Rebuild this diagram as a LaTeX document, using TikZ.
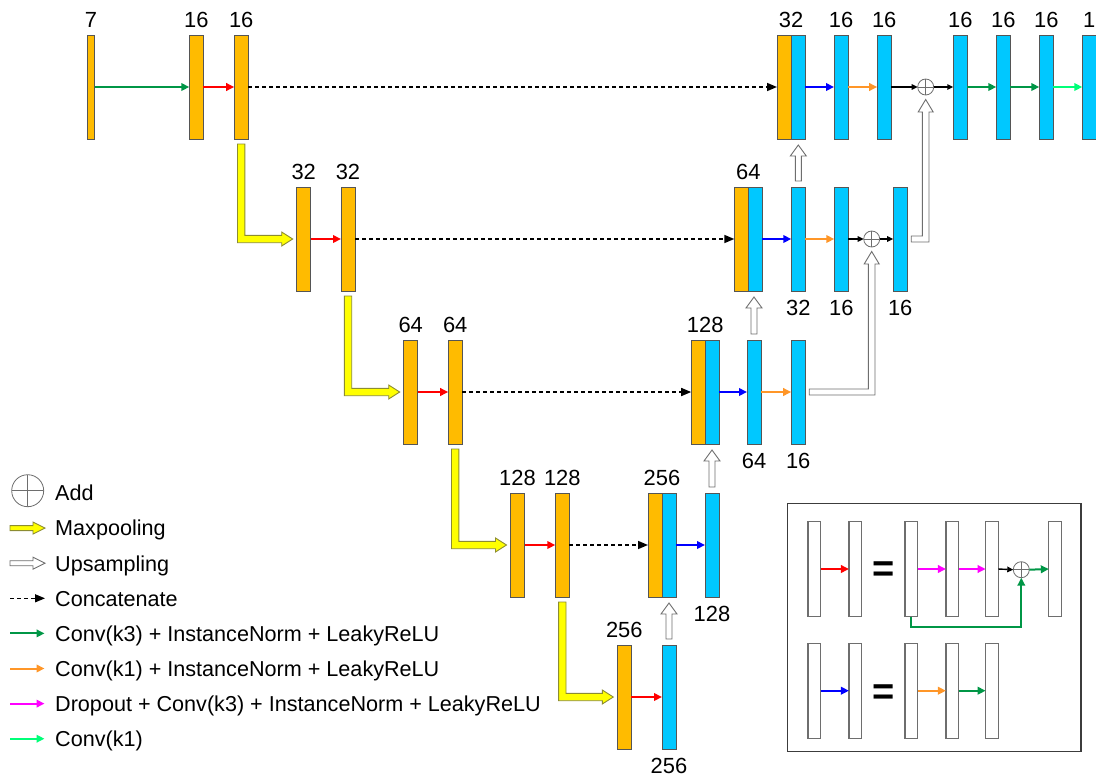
\documentclass[tikz,border=0pt]{standalone}
\usepackage{fontspec}
\setmainfont{Liberation Sans}
\usetikzlibrary{arrows.meta,calc}

\definecolor{barorange}{RGB}{255,187,0}
\definecolor{barcyan}{RGB}{0,200,255}
\definecolor{edgegray}{RGB}{85,85,85}
\definecolor{cred}{RGB}{255,0,0}
\definecolor{cblue}{RGB}{0,0,255}
\definecolor{corange}{RGB}{255,150,40}
\definecolor{cgreen}{RGB}{0,150,70}
\definecolor{clime}{RGB}{0,255,120}
\definecolor{cmagenta}{RGB}{255,0,255}
\definecolor{poolyellow}{RGB}{255,255,0}
\definecolor{pooledge}{RGB}{140,140,50}
\definecolor{upedge}{RGB}{110,110,110}
\definecolor{frameedge}{RGB}{60,60,60}

\tikzset{
  blk/.style={draw=edgegray, line width=0.8pt, inner sep=0pt, outer sep=0pt,
              minimum width=14pt, minimum height=104pt},
  enc/.style={blk, fill=barorange},
  dec/.style={blk, fill=barcyan},
  ibar/.style={draw=upedge, fill=white, line width=1.1pt, inner sep=0pt, outer sep=0pt,
               minimum width=12.7pt, minimum height=95pt},
  lbl/.style={font=\fontsize{21.9}{26}\selectfont, inner sep=0pt},
  keytxt/.style={font=\fontsize{21.6}{26}\selectfont, inner sep=0pt, anchor=base west},
  eqsign/.style={font=\fontsize{38}{38}\selectfont\bfseries, inner sep=0pt, anchor=north},
  flow/.style={line width=2pt, -{Triangle[length=8pt,width=7.5pt]}},
  redarr/.style={flow, draw=cred},
  bluearr/.style={flow, draw=cblue},
  orarr/.style={flow, draw=corange},
  grnarr/.style={flow, draw=cgreen},
  limearr/.style={flow, draw=clime},
  magarr/.style={flow, draw=cmagenta},
  blkarr/.style={line width=1.4pt, draw=black, -{Triangle[length=6pt,width=5.5pt]}},
  catarr/.style={line width=1.6pt, draw=black, dash pattern=on 3.5pt off 3.5pt,
                 -{Triangle[length=10pt,width=8pt]}},
  upst/.style={draw=upedge, fill=white, line width=0.9pt, line join=miter},
  poolst/.style={draw=pooledge, fill=poolyellow, line width=0.9pt, line join=miter},
  addc/.style={circle, draw=upedge, line width=0.8pt, minimum size=16pt, inner sep=0pt,
               outer sep=0pt, fill=white,
               path picture={\draw[upedge, line width=0.6pt]
                 (path picture bounding box.north) -- (path picture bounding box.south)
                 (path picture bounding box.west) -- (path picture bounding box.east);}},
}

% upsampling arrow from the top of block #1 up to the bottom of block #2
\newcommand\upsamp[2]{%
  \draw[upst] let \p1=(#1.north), \p2=(#2.south) in
    (\x1-3pt,\y1+6pt) -- (\x1-3pt,\y2-17pt) -- (\x1-8pt,\y2-17pt) -- (\x1,\y2-6pt)
    -- (\x1+8pt,\y2-17pt) -- (\x1+3pt,\y2-17pt) -- (\x1+3pt,\y1+6pt) -- cycle;}

% upsampling arrow from the right of block #1 round to the bottom of adder #2
\newcommand\skiparr[2]{%
  \draw[upst] let \p1=(#1.east), \p2=(#2.south) in
    (\x1+4pt,\y1+3pt) -- (\x2-3.3pt,\y1+3pt) -- (\x2-3.3pt,\y2-17pt) -- (\x2-7.5pt,\y2-17pt)
    -- (\x2,\y2-4.5pt) -- (\x2+7.5pt,\y2-17pt) -- (\x2+3.3pt,\y2-17pt) -- (\x2+3.3pt,\y1-3pt)
    -- (\x1+4pt,\y1-3pt) -- cycle;}

% max-pooling arrow from under block #1 down and right to block #2
\newcommand\maxpool[2]{%
  \draw[poolst] let \p1=(#1.south), \p2=(#2.west) in
    (\x1-3.7pt,\y1-5pt) -- (\x1-3.7pt,\y2-3.7pt) -- (\x2-15pt,\y2-3.7pt) -- (\x2-15pt,\y2-7pt)
    -- (\x2-4pt,\y2) -- (\x2-15pt,\y2+7pt) -- (\x2-15pt,\y2+3.7pt) -- (\x1+3.7pt,\y2+3.7pt)
    -- (\x1+3.7pt,\y1-5pt) -- cycle;}

% small horizontal block arrow for the key
\newcommand\keyarr[3]{%
  \draw[#1] let \p1=(#2), \p2=(#3) in
    (\x1,\y1+2.5pt) -- (\x2-12pt,\y1+2.5pt) -- (\x2-12pt,\y1+6pt) -- (\x2,\y1)
    -- (\x2-12pt,\y1-6pt) -- (\x2-12pt,\y1-2.5pt) -- (\x1,\y1-2.5pt) -- cycle;}

\begin{document}
\begin{tikzpicture}[x=1pt,y=-1pt]
\useasboundingbox (0,0) rectangle (1096,777);

% ---------------- level 1 ----------------
\node[enc, minimum width=7.4pt] (r1a) at (91,87) {};
\node[enc] (r1b) at (196.3,87) {};
\node[enc] (r1c) at (241.2,87) {};
\node[enc] (r1d) at (784,87) {};
\node[dec] (r1e) at (798,87) {};
\node[dec] (r1f) at (841,87) {};
\node[dec] (r1g) at (884.2,87) {};
\node[addc] (a1) at (925.7,87) {};
\node[dec] (r1h) at (960.3,87) {};
\node[dec] (r1i) at (1003.3,87) {};
\node[dec] (r1j) at (1046.3,87) {};
\node[dec] (r1k) at (1089.3,87) {};

% ---------------- level 2 ----------------
\node[enc] (r2a) at (303.7,239) {};
\node[enc] (r2b) at (348,239) {};
\node[enc] (r2c) at (741.3,239) {};
\node[dec] (r2d) at (755.3,239) {};
\node[dec] (r2e) at (798.3,239) {};
\node[dec] (r2f) at (841.3,239) {};
\node[addc] (a2) at (871.7,239) {};
\node[dec] (r2g) at (900.2,239) {};

% ---------------- level 3 ----------------
\node[enc] (r3a) at (410.7,392) {};
\node[enc] (r3b) at (455.2,392) {};
\node[enc] (r3c) at (698.2,392) {};
\node[dec] (r3d) at (712.2,392) {};
\node[dec] (r3e) at (754,392) {};
\node[dec] (r3f) at (798.2,392) {};

% ---------------- level 4 ----------------
\node[enc] (r4a) at (517.5,545) {};
\node[enc] (r4b) at (562.3,545) {};
\node[enc] (r4c) at (655,545) {};
\node[dec] (r4d) at (669,545) {};
\node[dec] (r4e) at (712,545) {};

% ---------------- level 5 ----------------
\node[enc] (r5a) at (624.3,697) {};
\node[dec] (r5b) at (669,697) {};

% channel counts above the blocks
\foreach \n/\t in {r1a/7, r1b/16, r1c/16, r1f/16, r1g/16, r1h/16, r1i/16, r1j/16, r1k/1,
                   r2a/32, r2b/32, r3a/64, r3b/64, r4a/128, r4b/128, r5a/256}
  \node[lbl, anchor=base] at ([yshift=7.5pt]\n.north) {\t};
\node[lbl, anchor=base] at ([yshift=7.5pt]r1d.north east) {32};
\node[lbl, anchor=base] at ([yshift=7.5pt]r2c.north east) {64};
\node[lbl, anchor=base] at ([yshift=7.5pt]r3c.north east) {128};
\node[lbl, anchor=base] at ([yshift=7.5pt]r4c.north east) {256};
% channel counts below the blocks
\foreach \n/\t in {r2e/32, r2f/16, r2g/16, r3e/64, r3f/16, r4e/128, r5b/256}
  \node[lbl, anchor=base] at ([yshift=-24pt]\n.south) {\t};

% ---------------- connections ----------------
\draw[grnarr] (r1a.east) -- (r1b.west);
\draw[redarr] (r1b.east) -- (r1c.west);
\draw[catarr] (r1c.east) -- (r1d.west);
\draw[bluearr] (r1e.east) -- (r1f.west);
\draw[orarr] (r1f.east) -- (r1g.west);
\draw[blkarr] (r1g.east) -- (a1.west);
\draw[blkarr] (a1.east) -- (r1h.west);
\draw[grnarr] (r1h.east) -- (r1i.west);
\draw[grnarr] (r1i.east) -- (r1j.west);
\draw[limearr] (r1j.east) -- (r1k.west);

\draw[redarr] (r2a.east) -- (r2b.west);
\draw[catarr] (r2b.east) -- (r2c.west);
\draw[bluearr] (r2d.east) -- (r2e.west);
\draw[orarr] (r2e.east) -- (r2f.west);
\draw[blkarr] (r2f.east) -- (a2.west);
\draw[blkarr] (a2.east) -- (r2g.west);

\draw[redarr] (r3a.east) -- (r3b.west);
\draw[catarr] (r3b.east) -- (r3c.west);
\draw[bluearr] (r3d.east) -- (r3e.west);
\draw[orarr] (r3e.east) -- (r3f.west);

\draw[redarr] (r4a.east) -- (r4b.west);
\draw[catarr] (r4b.east) -- (r4c.west);
\draw[bluearr] (r4d.east) -- (r4e.west);

\draw[redarr] (r5a.east) -- (r5b.west);

% upsampling
\upsamp{r2e}{r1e}
\upsamp{r3e}{r2d}
\upsamp{r4e}{r3d}
\upsamp{r5b}{r4d}
\skiparr{r2g}{a1}
\skiparr{r3f}{a2}

% max pooling
\maxpool{r1c}{r2a}
\maxpool{r2b}{r3a}
\maxpool{r3b}{r4a}
\maxpool{r4b}{r5a}

% ---------------- key ----------------
\node[addc, minimum size=32pt] (kadd) at (27.7,490.7) {};
\coordinate (k2s) at (10,528.1);   \coordinate (k2e) at (45,528.1);
\coordinate (k3s) at (10,563.2);   \coordinate (k3e) at (45,563.2);
\coordinate (k4s) at (10,598.3);   \coordinate (k4e) at (45,598.3);
\coordinate (k5s) at (10,633.4);   \coordinate (k5e) at (44.5,633.4);
\coordinate (k6s) at (10,668.5);   \coordinate (k6e) at (44.5,668.5);
\coordinate (k7s) at (10,703.6);   \coordinate (k7e) at (44.5,703.6);
\coordinate (k8s) at (10,738.7);   \coordinate (k8e) at (44.5,738.7);
\keyarr{poolst}{k2s}{k2e}
\keyarr{upst}{k3s}{k3e}
\draw[catarr, line width=1.3pt] (k4s) -- (k4e);
\draw[grnarr] (k5s) -- (k5e);
\draw[orarr] (k6s) -- (k6e);
\draw[magarr] (k7s) -- (k7e);
\draw[limearr] (k8s) -- (k8e);
\node[keytxt] at (55,500.8) {Add};
\node[keytxt] at (55,535.9) {Maxpooling};
\node[keytxt] at (55,571.0) {Upsampling};
\node[keytxt] at (55,606.1) {Concatenate};
\node[keytxt] at (55,641.2) {Conv(k3) + InstanceNorm + LeakyReLU};
\node[keytxt] at (55,676.3) {Conv(k1) + InstanceNorm + LeakyReLU};
\node[keytxt] at (55,711.4) {Dropout + Conv(k3) + InstanceNorm + LeakyReLU};
\node[keytxt] at (55,746.5) {Conv(k1)};

% ---------------- block definitions ----------------
\draw[frameedge, line width=1.4pt] (787.3,503.3) rectangle (1081,751.7);

% residual block (red arrow)
\node[ibar] (iA1) at (814.3,569) {};
\node[ibar] (iB1) at (855.3,569) {};
\node[eqsign] (eq1) at (883.8,561.2) {=};
\node[ibar] (iC1) at (911.3,569) {};
\node[ibar] (iD1) at (952.3,569) {};
\node[ibar] (iE1) at (992,569) {};
\node[addc] (ic) at (1021.3,569.7) {};
\node[ibar] (iF1) at (1055.2,569) {};
\draw[redarr] (iA1.east) -- (iB1.west);
\draw[magarr] (iC1.east) -- (iD1.west);
\draw[magarr] (iD1.east) -- (iE1.west);
\draw[blkarr] (iE1.east) -- (ic.west);
\draw[grnarr] (ic.east) -- (iF1.west);
\draw[grnarr] (iC1.south) -- ++(0,10.7) -| (ic.south);

% up-convolution block (blue arrow)
\node[ibar] (iA2) at (814.3,690.7) {};
\node[ibar] (iB2) at (855.3,690.7) {};
\node[eqsign] (eq2) at (883.8,684.6) {=};
\node[ibar] (iC2) at (911.3,690.7) {};
\node[ibar] (iD2) at (952.3,690.7) {};
\node[ibar] (iE2) at (992,690.7) {};
\draw[bluearr] (iA2.east) -- (iB2.west);
\draw[orarr] (iC2.east) -- (iD2.west);
\draw[grnarr] (iD2.east) -- (iE2.west);

\end{tikzpicture}
\end{document}
